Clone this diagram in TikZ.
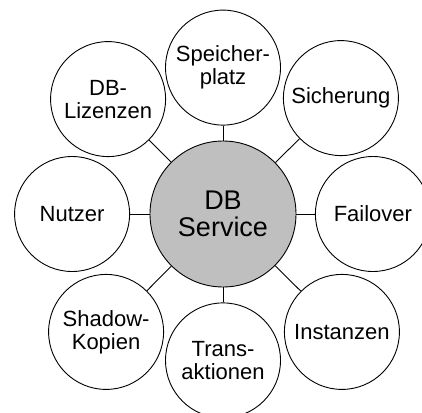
\documentclass[tikz,border=0pt]{standalone}
\usepackage{fontspec}
\setmainfont{Liberation Sans}
\usetikzlibrary{positioning}

\begin{document}
\begin{tikzpicture}[
  line width=0.9pt,
  node distance=15pt,
  item/.style={circle, draw, fill=white, minimum size=115pt, inner sep=0pt, align=center, font=\fontsize{22}{23}\selectfont},
  hub/.style={circle, draw, fill=black!25, minimum size=146pt, inner sep=0pt, align=center, font=\fontsize{27}{27}\selectfont}
]

\useasboundingbox (0,0) rectangle (422pt,-412pt);

\node[hub] (db) at (223pt,-214pt) {DB\\Service};

\node[item, above=15pt of db] (speicher) {Speicher-\\platz};
\draw (speicher) -- (db);

\node[item, above right=23pt and 25pt of db] (sicherung) {Sicherung};
\draw (sicherung) -- (db);

\node[item, right=18.5pt of db] (failover) {Failover};
\draw (failover) -- (db);

\node[item, below right=25pt and 26pt of db] (instanzen) {Instanzen};
\draw (instanzen) -- (db);

\node[item, below=15pt of db] (trans) {Trans-\\aktionen};
\draw (trans) -- (db);

\node[item, below left=25pt and 24pt of db] (shadow) {Shadow-\\Kopien};
\draw (shadow) -- (db);

\node[item, left=19.5pt of db] (nutzer) {Nutzer};
\draw (nutzer) -- (db);

\node[item, above left=22pt and 22pt of db] (lizenzen) {DB-\\Lizenzen};
\draw (lizenzen) -- (db);

\end{tikzpicture}
\end{document}
